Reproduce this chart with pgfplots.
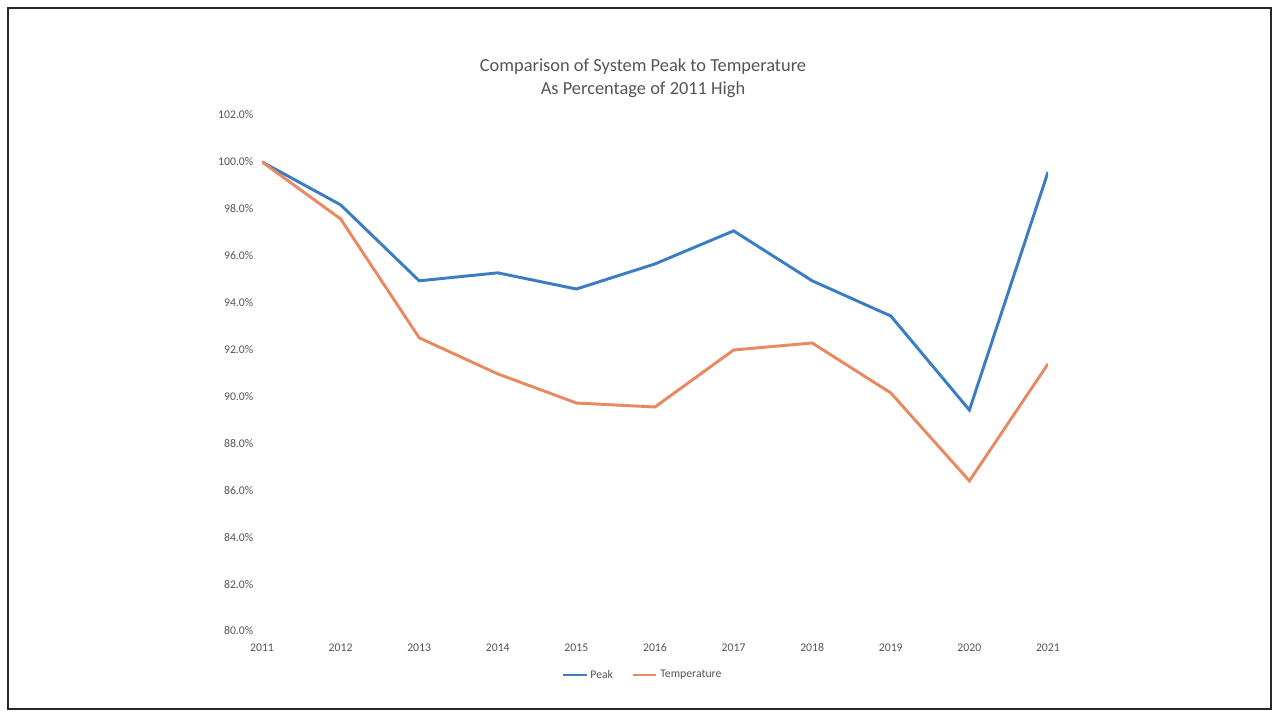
\documentclass[border=0pt]{standalone}
\usepackage{fontspec}
\setmainfont{Carlito}
\usepackage{pgfplots}
\pgfplotsset{compat=1.18}
\definecolor{peakblue}{RGB}{58,125,195}
\definecolor{temporange}{RGB}{232,137,97}
\definecolor{txtgray}{RGB}{85,85,85}
\begin{document}
\begin{tikzpicture}[x=0.75pt,y=0.75pt]
\useasboundingbox (0,0) rectangle (1276,712);
\fill[white] (0,0) rectangle (1276,712);
\draw[line width=1.5pt,black!85] (8,3) rectangle (1271,704);
\node[text=txtgray,align=center,font=\fontsize{13.8}{17}\selectfont] at (643,634) {Comparison of System Peak to Temperature\\As Percentage of 2011 High};
\begin{axis}[
  at={(196.5pt,60.75pt)}, anchor=south west,
  scale only axis, width=589.5pt, height=387pt,
  xmin=2011, xmax=2021, ymin=80, ymax=102,
  xtick={2011,...,2021}, ytick={80,82,...,102},
  axis line style={draw=none}, major tick style={draw=none},
  ticklabel style={text=txtgray,font=\fontsize{8.8}{10}\selectfont},
  xticklabel style={/pgf/number format/1000 sep={},yshift=-6pt},
  yticklabel={\pgfmathprintnumber[fixed,fixed zerofill,precision=1,assume math mode=true]{\tick}\%},
  yticklabel style={xshift=-3pt},
  /pgf/number format/assume math mode=true,
  legend style={at={(0.4847,-0.0853)},anchor=center,draw=none,fill=none,legend columns=2,font=\fontsize{8.8}{10}\selectfont,text=txtgray,/tikz/every even column/.append style={column sep=12pt}},
  legend cell align=left,
  legend image code/.code={\draw[#1,line width=1.8pt] (0cm,0cm) -- (0.62cm,0cm);},
]
\addplot[peakblue,line width=2.2pt] coordinates {
(2011,100.0) (2012,98.17) (2013,94.93) (2014,95.27) (2015,94.58) (2016,95.65) (2017,97.06) (2018,94.93) (2019,93.43) (2020,89.42) (2021,99.57)};
\addlegendentry{Peak}
\addplot[temporange,line width=2.2pt] coordinates {
(2011,100.0) (2012,97.57) (2013,92.50) (2014,90.96) (2015,89.72) (2016,89.55) (2017,91.98) (2018,92.28) (2019,90.15) (2020,86.40) (2021,91.39)};
\addlegendentry{Temperature}
\end{axis}
\end{tikzpicture}
\end{document}
